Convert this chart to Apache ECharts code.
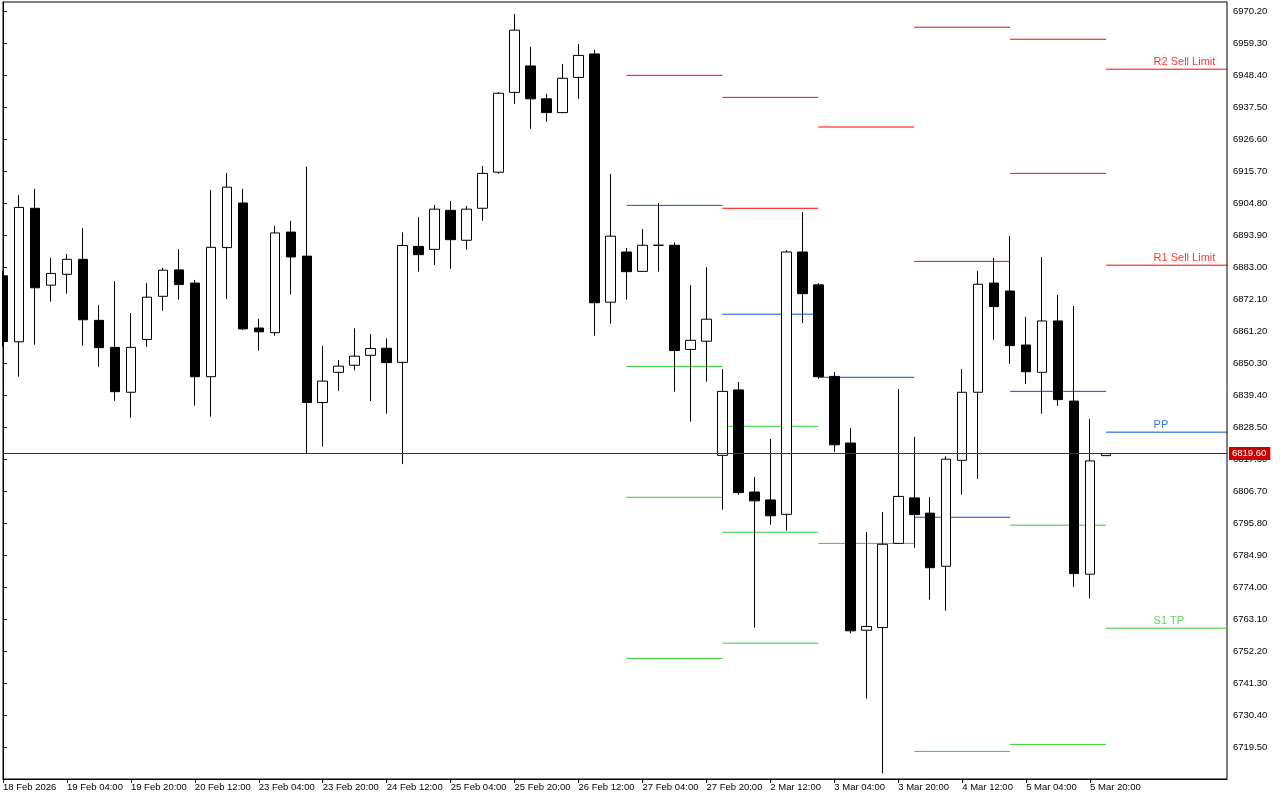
<!DOCTYPE html>
<html><head><meta charset="utf-8">
<script src="https://cdn.jsdelivr.net/npm/echarts@6/dist/echarts.min.js"></script>
<style>html,body{margin:0;padding:0;background:#fff}#c{width:1280px;height:800px}</style>
</head><body><div id="c"></div>
<script>
// H4 candles, index 0 = 18 Feb 2026 12:00
const opens  = [6880.2,6857.7,6903.2,6877.0,6880.7,6885.8,6865.0,6855.8,6840.5,6858.5,
                6873.2,6882.2,6877.7,6845.8,6889.8,6905.0,6862.4,6860.8,6895.1,6886.9,
                6837.0,6847.3,6849.7,6853.1,6855.5,6850.7,6890.2,6889.2,6902.5,6892.3,
                6903.2,6915.5,6942.7,6951.7,6940.5,6935.8,6947.8,6955.8,6871.2,6888.3,
                6881.7,6890.6,6890.6,6855.1,6857.9,6819.0,6841.3,6806.5,6803.8,6798.9,
                6888.3,6877.1,6845.9,6823.2,6759.4,6760.3,6789.0,6804.5,6799.3,6781.2,
                6817.3,6840.5,6877.7,6875.0,6856.6,6847.3,6864.8,6837.5,6778.5,6818.9];
const closes = [6857.8,6903.5,6876.1,6881.0,6885.8,6865.2,6855.7,6840.7,6855.8,6872.9,
                6882.1,6877.2,6845.8,6889.9,6910.4,6862.1,6861.1,6894.8,6886.6,6837.0,
                6844.3,6849.4,6852.8,6855.4,6850.6,6890.5,6887.4,6902.9,6892.5,6902.9,
                6915.1,6942.4,6963.9,6940.5,6935.8,6947.5,6955.3,6871.0,6893.7,6881.6,
                6890.6,6890.6,6854.7,6858.2,6865.4,6840.8,6806.3,6803.5,6798.4,6888.3,
                6874.1,6845.8,6822.6,6759.2,6760.7,6788.7,6805.0,6798.8,6780.7,6817.7,
                6840.5,6877.3,6869.7,6856.4,6847.5,6864.8,6838.0,6778.7,6817.1,6819.6];
const lows   = [6856.0,6845.8,6856.7,6871.4,6874.1,6856.4,6849.2,6837.6,6831.8,6856.0,
                6868.3,6872.1,6835.9,6832.2,6872.3,6861.7,6854.7,6859.8,6873.8,6819.7,
                6822.0,6841.0,6848.0,6837.5,6833.2,6816.0,6881.6,6883.9,6882.6,6889.1,
                6899.0,6915.0,6938.8,6930.3,6932.7,6935.6,6940.5,6859.8,6863.9,6872.1,
                6881.6,6881.6,6840.7,6830.5,6844.1,6800.5,6805.6,6760.3,6795.4,6793.3,
                6864.1,6845.1,6820.2,6758.4,6736.1,6710.6,6788.8,6787.5,6769.8,6766.1,
                6805.6,6811.0,6858.4,6850.2,6843.4,6833.2,6835.9,6774.2,6770.2,6818.8];
const highs  = [6882.0,6907.7,6909.8,6886.3,6887.6,6896.4,6870.2,6878.4,6867.5,6877.7,
                6882.9,6889.3,6878.8,6909.4,6915.2,6909.8,6865.5,6897.2,6898.9,6917.4,
                6856.3,6851.5,6862.3,6860.3,6858.9,6895.0,6900.2,6904.3,6905.7,6904.0,
                6917.6,6942.8,6969.4,6958.2,6942.2,6952.4,6959.2,6957.2,6914.9,6889.7,
                6896.1,6905.0,6891.6,6877.0,6883.1,6848.4,6844.0,6811.6,6824.6,6888.9,
                6901.9,6877.7,6847.4,6828.3,6792.9,6799.7,6841.6,6825.3,6804.8,6818.7,
                6848.4,6881.8,6886.3,6893.8,6866.2,6886.6,6873.7,6869.9,6831.4,6819.8];

const lastPrice = 6819.6;

// x-axis time labels (every 4th bar)
const xTickIdx    = [0,4,8,12,16,20,24,28,32,36,40,44,48,52,56,60,64,68];
const xTickLabels = ['18 Feb 2026','19 Feb 04:00','19 Feb 20:00','20 Feb 12:00','23 Feb 04:00',
                     '23 Feb 20:00','24 Feb 12:00','25 Feb 04:00','25 Feb 20:00','26 Feb 12:00',
                     '27 Feb 04:00','27 Feb 20:00','2 Mar 12:00','3 Mar 04:00','3 Mar 20:00',
                     '4 Mar 12:00','5 Mar 04:00','5 Mar 20:00'];

// price-axis tick labels
const yTicks = [6970.2,6959.3,6948.4,6937.5,6926.6,6915.7,6904.8,6893.9,6883.0,6872.1,
                6861.2,6850.3,6839.4,6828.5,6817.6,6806.7,6795.8,6784.9,6774.0,6763.1,
                6752.2,6741.3,6730.4,6719.5];

// daily pivot segments (bar index where each day starts / ends)
const dayStart = [39, 45, 51, 57, 63, 69];
const dayEnd   = [45, 51, 57, 63, 69, 80];
const R2 = [null,   6941.0, null,   6964.9, 6960.8, 6950.6];
const R1 = [6948.5, 6903.2, 6930.9, 6885.1, 6915.1, 6883.8];
const PP = [6904.2, 6867.1, 6845.6, 6797.9, 6840.8, 6826.9];
const S1 = [6849.3, 6828.9, 6789.0, 6718.1, 6795.2, 6760.1];
const S2 = [6804.7, 6792.8, null,   null,   6720.5, null];
const S3 = [6749.8, 6755.0, null,   null,   null,   null];

// text labels on the current day's levels
const levelLabelIdx = 72;
const levelLabels = [
  {text: 'R2 Sell Limit', value: R2[5], kind: 'R'},
  {text: 'R1 Sell Limit', value: R1[5], kind: 'R'},
  {text: 'PP',            value: PP[5], kind: 'P'},
  {text: 'S1 TP',         value: S1[5], kind: 'S'}
];

const RED = '#ff0000', BLUE = '#0d4fd8', GREEN = '#33cc33';
const kindColor = {R: RED, P: BLUE, S: GREEN};
const FONT = '"Liberation Sans", Arial, sans-serif';

const candleData = opens.map((o, i) => [i, o, closes[i], lows[i], highs[i]]);

const series = [{
  type: 'candlestick',
  data: candleData,
  barWidth: 10,
  z: 3,
  clip: true,
  itemStyle: {color: '#ffffff', color0: '#000000', borderColor: '#000000', borderColor0: '#000000', borderWidth: 1},
  markLine: {
    symbol: 'none', silent: true, animation: false,
    lineStyle: {color: '#b40000', width: 1, type: 'solid'},
    label: {show: true, position: 'end', distance: 2, formatter: () => lastPrice.toFixed(2),
            color: '#ffffff', backgroundColor: '#c80000', padding: [2, 4, 1, 3],
            fontFamily: FONT, fontSize: 9.5},
    data: [{yAxis: lastPrice}]
  }
}];

const levelSets = [[R2, 'R'], [R1, 'R'], [PP, 'P'], [S1, 'S'], [S2, 'S'], [S3, 'S']];
levelSets.forEach(([vals, kind]) => {
  vals.forEach((v, d) => {
    if (v == null) return;
    series.push({
      type: 'line', silent: true, showSymbol: false, symbol: 'none', z: 2, clip: true,
      lineStyle: {color: kindColor[kind], width: 1},
      data: [[dayStart[d], v], [dayEnd[d], v]]
    });
  });
});

series.push({
  type: 'scatter', silent: true, symbolSize: 1, z: 4,
  itemStyle: {color: 'rgba(0,0,0,0)'},
  data: levelLabels.map(l => ({
    value: [levelLabelIdx, l.value],
    label: {show: true, formatter: l.text, color: kindColor[l.kind], position: [0, -7],
            align: 'left', verticalAlign: 'middle', fontFamily: FONT, fontSize: 11}
  }))
});

const chart = echarts.init(document.getElementById('c'));
chart.setOption({
  animation: false,
  backgroundColor: '#ffffff',
  grid: {left: 2, top: 2, right: 53, bottom: 21, show: true, borderColor: '#000', borderWidth: 1, containLabel: false},
  graphic: [{type: 'rect', left: 0, top: 0, z: 100, silent: true,
             shape: {width: 2, height: 780}, style: {fill: '#ffffff'}}],
  xAxis: {
    type: 'value', min: 0, max: 76.5625,
    splitLine: {show: false},
    axisLine: {show: true, lineStyle: {color: '#000', width: 1}},
    axisTick: {show: true, customValues: xTickIdx, length: 4, lineStyle: {color: '#000'}},
    axisLabel: {show: true, customValues: xTickIdx, align: 'left', margin: 3,
                color: '#000', fontFamily: FONT, fontSize: 9.5,
                formatter: v => xTickLabels[xTickIdx.indexOf(Math.round(v))] || ''}
  },
  yAxis: {
    type: 'value', position: 'right', min: 6708.7, max: 6973.5, scale: true,
    splitLine: {show: false},
    axisLine: {show: true, lineStyle: {color: '#000', width: 1}},
    axisTick: {show: true, customValues: yTicks, length: 4, lineStyle: {color: '#000'}},
    axisLabel: {show: true, customValues: yTicks, margin: 6, color: '#000',
                fontFamily: FONT, fontSize: 9.5, formatter: v => v.toFixed(2)}
  },
  series: series
});
</script></body></html>
